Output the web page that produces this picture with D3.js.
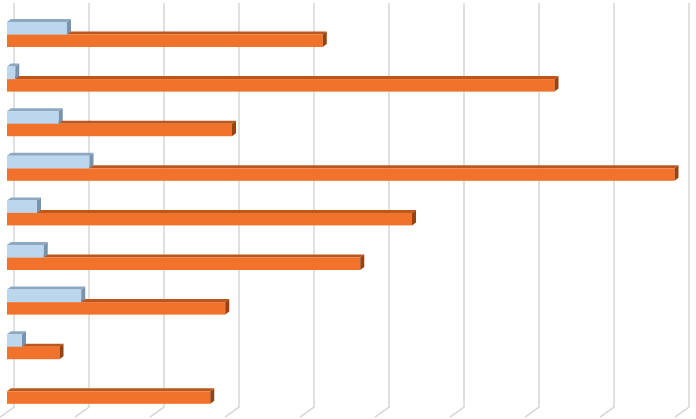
<!DOCTYPE html>
<html>
<head>
<meta charset="utf-8">
<script src="https://cdn.jsdelivr.net/npm/d3@7"></script>
<style>
  html, body { margin: 0; padding: 0; background: #ffffff; }
  svg { display: block; }
</style>
</head>
<body>
<svg id="chart" width="696" height="419"></svg>
<script>
// ---- data ----
const categories = ["C1", "C2", "C3", "C4", "C5", "C6", "C7", "C8", "C9"];
const seriesNames = ["Series A", "Series B"];
const seriesA = [0.80, 0.11, 0.69, 1.10, 0.40, 0.49, 0.99, 0.20, 0.00];
const seriesB = [4.21, 7.30, 3.00, 8.90, 5.40, 4.71, 2.91, 0.70, 2.71];
const gridTicks = [0, 1, 2, 3, 4, 5, 6, 7, 8, 9];

// ---- layout ----
const W = 696, H = 419;
const svg = d3.select("#chart");
const depthX = 4, depthY = 3;      // bar 3-D depth offset
const wallX = 7;                   // back wall offset from bar front
const gridTop = 3, gridBottom = 407;

const x = d3.scaleLinear().domain([0, 9]).range([7, 682]);
const y = d3.scaleBand().domain(categories).range([12.2, 413.6])
  .paddingInner(0.439).paddingOuter(0.2195);
const ySub = d3.scaleBand().domain(seriesNames).range([0, y.bandwidth()]);

const colors = {
  "Series A": { front: "#bcd6ee", top: "#8ea8c1", side: "#7893ad" },
  "Series B": { front: "#f1722b", top: "#bb571e", side: "#96430f" }
};

// ---- gridlines on back wall + floor ----
const grid = svg.append("g");
grid.selectAll("path").data(gridTicks).join("path")
  .attr("d", d => {
    const gx = x(d) + wallX;
    return `M${gx},${gridTop} L${gx},${gridBottom} L${gx - 14},${gridBottom + 10.2}`;
  })
  .attr("fill", "none")
  .attr("stroke", "#d6d6d6")
  .attr("stroke-width", 1.5);

// ---- bars ----
const rows = [];
categories.forEach((c, i) => {
  rows.push({ cat: c, series: "Series B", value: seriesB[i] });
  rows.push({ cat: c, series: "Series A", value: seriesA[i] });
});

const bars = svg.append("g").selectAll("g").data(rows.filter(r => r.value > 0)).join("g");

bars.each(function(r) {
  const g = d3.select(this);
  const x0 = x(0), x1 = x(r.value);
  const yt = y(r.cat) + ySub(r.series);
  const h = ySub.bandwidth();
  const col = colors[r.series];
  // top face
  g.append("path")
    .attr("d", `M${x0},${yt} L${x0 + depthX},${yt - depthY} L${x1 + depthX},${yt - depthY} L${x1},${yt} Z`)
    .attr("fill", col.top);
  // front face
  g.append("rect")
    .attr("x", x0).attr("y", yt)
    .attr("width", x1 - x0).attr("height", h)
    .attr("fill", col.front);
  // end face
  g.append("path")
    .attr("d", `M${x1},${yt} L${x1 + depthX},${yt - depthY} L${x1 + depthX},${yt + h - depthY} L${x1},${yt + h} Z`)
    .attr("fill", col.side);
});
</script>
</body>
</html>
